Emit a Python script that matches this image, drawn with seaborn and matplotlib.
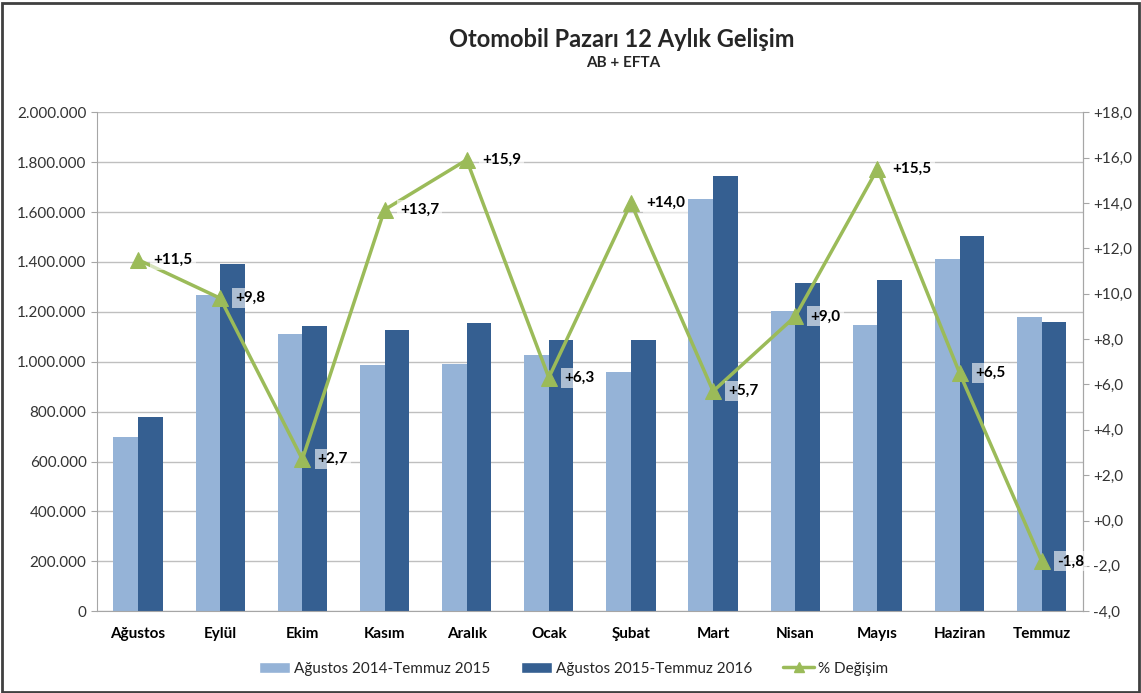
import numpy as np
import pandas as pd
import matplotlib
matplotlib.use("Agg")
import matplotlib.pyplot as plt
from matplotlib.ticker import FuncFormatter, MultipleLocator
from matplotlib.patches import Rectangle
from matplotlib.lines import Line2D
import seaborn as sns

months = ["Ağustos", "Eylül", "Ekim", "Kasım", "Aralık", "Ocak", "Şubat",
          "Mart", "Nisan", "Mayıs", "Haziran", "Temmuz"]
sales_prev = [697000, 1267000, 1110000, 986000, 990000, 1026000, 958000,
              1651000, 1202000, 1146000, 1411000, 1178000]
sales_curr = [778000, 1391000, 1142000, 1126000, 1154000, 1086000, 1086000,
              1743000, 1315000, 1327000, 1503000, 1158000]
pct_change = [11.5, 9.8, 2.7, 13.7, 15.9, 6.3, 14.0, 5.7, 9.0, 15.5, 6.5, -1.8]
series_names = ["Ağustos 2014-Temmuz 2015", "Ağustos 2015-Temmuz 2016"]
line_name = "% Değişim"

light_blue = "#95B3D7"
dark_blue = "#355F91"
green = "#9BBB59"

sns.set_style("white")
plt.rcParams['font.family'] = ['Lato', 'DejaVu Sans']

df = pd.DataFrame({
    "month": months * 2,
    "value": sales_prev + sales_curr,
    "period": [series_names[0]] * 12 + [series_names[1]] * 12,
})

fig = plt.figure(figsize=(11.41, 6.93), dpi=100)
ax = fig.add_axes([0.085, 0.118, 0.864, 0.72])

# bars for both periods
sns.barplot(data=df, x="month", y="value", hue="period", ax=ax,
            palette=[light_blue, dark_blue], width=0.6, gap=0,
            saturation=1, legend=False, linewidth=0, zorder=2)
ax.set_ylim(0, 2000000)
ax.set_xlim(-0.5, 11.5)
ax.yaxis.set_major_locator(MultipleLocator(200000))
ax.yaxis.set_major_formatter(FuncFormatter(lambda v, p: f"{int(v):,}".replace(",", ".")))
ax.grid(axis="y", color="#BFBFBF", linewidth=1, zorder=0)
ax.set_axisbelow(True)
ax.set_xlabel("")
ax.set_ylabel("")
for lbl in ax.get_xticklabels():
    lbl.set_fontweight("bold")
ax.tick_params(axis="x", labelsize=11, colors="#000000", length=0, pad=11)
ax.tick_params(axis="y", labelsize=11, labelcolor="#333333", length=4,
               color="#A6A6A6", direction="out", left=True)
ax.spines["top"].set_visible(False)
for s in ["left", "right", "bottom"]:
    ax.spines[s].set_color("#A6A6A6")

# percent change line on the secondary axis
ax2 = ax.twinx()
sns.lineplot(x=np.arange(12), y=pct_change, ax=ax2, color=green, linewidth=2.5,
             marker="^", markersize=11, markeredgecolor=green, zorder=5)
ax2.set_ylim(-4, 18)
ax2.yaxis.set_major_locator(MultipleLocator(2))
ax2.yaxis.set_major_formatter(FuncFormatter(
    lambda v, p: (f"{v:+.1f}" if abs(v) > 1e-9 else "+0,0").replace(".", ",")))
ax2.tick_params(axis="y", labelsize=11, labelcolor="#333333", length=4,
                color="#A6A6A6", direction="out", right=True)
for s in ["top", "left", "bottom"]:
    ax2.spines[s].set_visible(False)
ax2.spines["right"].set_color("#A6A6A6")
ax2.set_xlim(-0.5, 11.5)

for i, v in enumerate(pct_change):
    txt = (f"{v:+.1f}").replace(".", ",")
    ax2.annotate(txt, (i, v), xytext=(11, 0), textcoords="offset points",
                 ha="left", va="center", fontsize=11, fontweight="bold",
                 color="#000000", zorder=6,
                 bbox=dict(boxstyle="square,pad=0.2", facecolor="white",
                           edgecolor="none", alpha=0.6))

fig.text(0.545, 0.943, "Otomobil Pazarı 12 Aylık Gelişim", ha="center",
         va="center", fontsize=17, fontweight="bold")
fig.text(0.546, 0.909, "AB + EFTA", ha="center", va="center", fontsize=11,
         fontweight="bold")

handles = [
    Rectangle((0, 0), 1, 1, facecolor=light_blue),
    Rectangle((0, 0), 1, 1, facecolor=dark_blue),
    Line2D([0], [0], color=green, linewidth=2.5, marker="^", markersize=7),
]
fig.legend(handles, series_names + [line_name], loc="center",
           bbox_to_anchor=(0.503, 0.035), ncol=3, frameon=False, fontsize=11,
           handlelength=2.0, handletextpad=0.3, columnspacing=2.0)

fig.patches.append(Rectangle((0.002, 0.002), 0.996, 0.993, transform=fig.transFigure,
                             fill=False, edgecolor="#404040", linewidth=2))

fig.savefig("out.png", dpi=100)
